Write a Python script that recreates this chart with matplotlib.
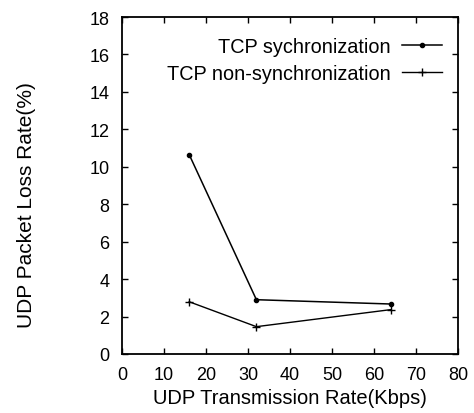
import matplotlib
matplotlib.use("Agg")
import matplotlib.pyplot as plt

rate_kbps = [16, 32, 64]
sync_loss = [10.65, 2.9, 2.67]
nonsync_loss = [2.79, 1.46, 2.37]
series_labels = ["TCP sychronization", "TCP non-synchronization"]
x_ticks = [0, 10, 20, 30, 40, 50, 60, 70, 80]
y_ticks = [0, 2, 4, 6, 8, 10, 12, 14, 16, 18]

plt.rcParams['font.family'] = ['Liberation Sans', 'DejaVu Sans']

fig = plt.figure(figsize=(4.74, 4.14), dpi=100)
ax = fig.add_axes([122/474, 1-355/414, (458-122)/474, (355-18)/414])

ax.plot(rate_kbps, sync_loss, color='black', lw=1.1, marker='o', ms=3,
        label=series_labels[0])
ax.plot(rate_kbps, nonsync_loss, color='black', lw=1.0, marker='+', ms=6,
        mew=1.0, label=series_labels[1])

ax.set_xlim(0, 80)
ax.set_ylim(0, 18)
ax.set_xticks(x_ticks)
ax.set_yticks(y_ticks)
ax.tick_params(direction='in', top=True, right=True, length=4, width=1,
               labelsize=13)
ax.tick_params(axis='y', pad=9)
ax.tick_params(axis='x', pad=9)
for s in ax.spines.values():
    s.set_linewidth(1.3)

ax.set_xlabel("UDP Transmission Rate(Kbps)", fontsize=14.5, labelpad=3)
ax.set_ylabel("UDP Packet Loss Rate(%)", fontsize=15)
ax.yaxis.set_label_coords(-0.255, 0.445)

leg = ax.legend(loc='upper right', frameon=False, markerfirst=False,
                fontsize=14.3, handlelength=2.0, handletextpad=0.6,
                borderaxespad=0, borderpad=0, labelspacing=0.4,
                bbox_to_anchor=(0.953, 0.94))
for t in leg.get_texts():
    t.set_ha('right')

fig.savefig("out.png", dpi=100)
